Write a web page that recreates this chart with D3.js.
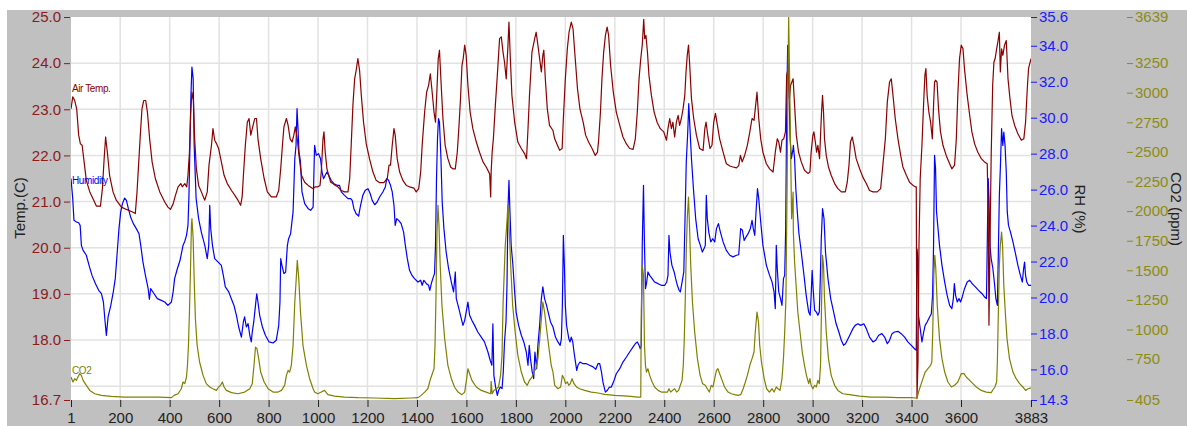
<!DOCTYPE html>
<html>
<head>
<meta charset="utf-8">
<script src="https://cdn.jsdelivr.net/npm/d3@7"></script>
<style>
  body { margin: 0; background: #fff; }
  svg { display: block; font-family: "Liberation Sans", Arial, sans-serif; }
</style>
</head>
<body>
<svg id="chart" width="1187" height="426"></svg>
<script>
// tick values for the three y axes and the sample axis
const sampleTicks = [1, 200, 400, 600, 800, 1000, 1200, 1400, 1600, 1800, 2000, 2200, 2400, 2600, 2800, 3000, 3200, 3400, 3600, 3883];
const tempTicks = [16.7, 18, 19, 20, 21, 22, 23, 24, 25];
const tempGrid = [17, 18, 19, 20, 21, 22, 23, 24];
const rhTicks = [14.3, 16, 18, 20, 22, 24, 26, 28, 30, 32, 34, 35.6];
const co2Ticks = [405, 750, 1000, 1250, 1500, 1750, 2000, 2250, 2500, 2750, 3000, 3250, 3639];

// [sample, value]
const tempData = [[1,23.01],[8,23.27],[16,23.19],[24,23.01],[32,22.44],[39,22.25],[46,22.22],[54,21.86],[63,21.46],[77,21.21],[90,21.06],[104,20.90],[120,20.90],[128,21.28],[135,21.93],[141,22.40],[148,22.07],[157,21.57],[171,21.21],[184,21.03],[205,20.88],[225,20.83],[252,20.77],[261,20.74],[268,21.21],[275,21.86],[282,22.51],[288,23.01],[295,23.19],[303,23.19],[310,22.94],[319,22.36],[329,21.86],[342,21.50],[360,21.21],[380,20.99],[393,20.88],[403,20.83],[414,20.95],[423,21.13],[434,21.32],[445,21.39],[451,21.32],[461,21.39],[469,21.32],[474,21.57],[480,22.07],[485,22.94],[490,23.37],[496,23.19],[501,22.36],[508,21.71],[517,21.35],[528,21.21],[542,21.03],[552,21.21],[559,21.79],[569,22.22],[575,22.58],[582,22.33],[590,22.25],[598,22.15],[609,21.86],[620,21.57],[633,21.39],[650,21.24],[663,21.14],[676,21.03],[687,20.92],[693,21.10],[699,21.64],[706,22.22],[714,22.72],[721,22.80],[728,22.44],[734,22.58],[744,22.80],[751,22.80],[757,22.36],[768,21.93],[782,21.50],[795,21.21],[811,21.10],[831,21.10],[841,21.24],[849,21.71],[856,22.22],[862,22.62],[872,22.80],[879,22.65],[887,22.36],[895,22.29],[902,22.44],[908,22.62],[916,22.36],[923,22.00],[933,21.57],[946,21.42],[960,21.35],[980,21.28],
[989,21.32],[999,21.32],[1008,21.35],[1013,21.64],[1020,22.36],[1024,22.51],[1029,22.07],[1036,21.71],[1043,21.57],[1051,21.42],[1060,21.39],[1070,21.35],[1080,21.32],[1094,21.24],[1107,21.21],[1121,21.21],[1128,21.50],[1134,22.22],[1141,23.09],[1148,23.66],[1154,23.84],[1161,24.10],[1168,23.84],[1175,23.30],[1184,22.72],[1195,22.25],[1208,21.93],[1222,21.64],[1235,21.46],[1249,21.41],[1266,21.41],[1280,21.50],[1287,21.79],[1293,21.79],[1300,22.22],[1307,22.58],[1312,22.44],[1320,21.93],[1330,21.64],[1343,21.46],[1357,21.35],[1370,21.32],[1388,21.29],[1397,21.21],[1407,21.28],[1415,21.64],[1421,22.22],[1431,22.94],[1439,23.37],[1447,23.52],[1454,23.77],[1460,23.45],[1469,22.94],[1475,22.72],[1481,23.45],[1486,24.10],[1491,24.28],[1498,23.52],[1505,22.80],[1514,22.22],[1525,21.93],[1536,21.75],[1545,21.71],[1555,21.71],[1563,22.07],[1570,22.65],[1576,23.23],[1582,23.95],[1587,24.10],[1593,24.39],[1599,24.17],[1606,23.52],[1615,22.94],[1626,22.58],[1640,22.29],[1653,22.07],[1667,21.86],[1680,21.75],[1694,21.60],[1698,21.10],[1700,21.64],[1704,22.07],[1709,22.36],[1717,23.09],[1725,23.74],[1734,24.53],[1741,24.57],[1748,24.24],[1754,24.02],[1761,23.66],[1768,24.39],[1772,24.89],[1777,24.17],[1784,23.30],[1795,22.72],[1808,22.29],[1822,22.15],[1835,22.04],[1843,21.93],[1849,22.58],[1855,23.30],[1865,24.24],[1876,24.53],[1882,24.67],[1889,24.39],[1896,24.10],[1903,23.81],[1909,24.17],[1913,24.28],[1919,23.66],[1927,23.01],[1936,22.65],[1950,22.54],
[1957,22.36],[1968,22.22],[1977,22.11],[1987,22.15],[1992,22.80],[2000,23.66],[2008,24.31],[2015,24.67],[2024,24.89],[2031,24.75],[2038,24.24],[2049,23.45],[2059,23.01],[2072,22.72],[2082,22.44],[2094,22.29],[2108,22.15],[2121,22.00],[2130,22.07],[2135,22.36],[2142,22.94],[2148,23.66],[2155,24.24],[2162,24.60],[2169,24.78],[2175,24.60],[2183,23.95],[2194,23.37],[2206,22.94],[2220,22.65],[2233,22.40],[2247,22.25],[2260,22.15],[2274,22.13],[2283,22.36],[2291,22.94],[2298,23.66],[2305,24.10],[2311,24.39],[2317,24.95],[2321,24.53],[2326,24.60],[2332,24.24],[2338,23.74],[2348,23.30],[2359,22.94],[2371,22.72],[2384,22.58],[2398,22.51],[2409,22.33],[2415,22.58],[2422,22.80],[2429,22.58],[2435,22.72],[2442,22.40],[2449,22.72],[2456,22.87],[2462,22.65],[2469,22.80],[2476,23.01],[2483,23.30],[2488,23.81],[2493,24.17],[2498,24.39],[2503,23.95],[2510,23.23],[2519,22.80],[2530,22.44],[2543,22.15],[2557,22.11],[2564,22.58],[2569,22.72],[2577,22.40],[2585,22.15],[2593,22.22],[2600,22.72],[2607,22.91],[2615,22.65],[2624,22.36],[2638,22.07],[2651,21.82],[2665,21.77],[2678,21.75],[2692,21.73],[2701,21.78],[2708,22.00],[2715,21.86],[2725,22.00],[2736,22.22],[2746,22.51],[2755,22.80],[2763,22.76],[2768,23.01],[2775,23.37],[2782,22.80],[2790,22.36],[2799,22.07],[2813,21.82],[2826,21.71],[2840,21.64],[2849,22.07],[2857,22.36],[2863,22.29],[2870,22.07],[2876,22.33],[2883,22.36],[2890,22.51],[2895,23.74],[2901,23.88],[2906,23.23],[2911,23.52],[2921,23.66],
[2927,23.09],[2934,22.44],[2943,22.07],[2954,21.86],[2967,21.68],[2981,21.61],[2989,21.64],[2994,22.07],[3001,22.44],[3005,22.51],[3011,22.29],[3016,22.07],[3021,22.22],[3028,21.93],[3032,22.44],[3036,22.94],[3040,23.30],[3044,22.94],[3048,22.36],[3055,22.00],[3064,21.75],[3075,21.57],[3089,21.39],[3102,21.28],[3116,21.21],[3132,21.21],[3140,21.42],[3147,21.79],[3153,22.29],[3160,22.40],[3167,22.22],[3176,21.93],[3190,21.71],[3203,21.53],[3217,21.39],[3230,21.24],[3244,21.21],[3261,21.21],[3275,21.28],[3284,21.79],[3294,22.36],[3302,23.16],[3311,23.59],[3318,23.66],[3325,23.30],[3334,22.80],[3345,22.36],[3356,22.00],[3365,21.75],[3379,21.57],[3392,21.42],[3406,21.35],[3415,21.32],[3419,21.32],[3422,16.75],[3426,17.52],[3430,20.05],[3435,21.50],[3442,22.22],[3449,23.16],[3454,23.74],[3458,23.88],[3463,23.30],[3470,22.94],[3477,22.72],[3484,22.36],[3489,23.09],[3493,23.59],[3497,23.63],[3503,23.59],[3509,23.01],[3517,22.51],[3527,22.22],[3540,22.00],[3554,21.82],[3563,21.71],[3574,21.79],[3581,22.36],[3587,23.30],[3594,24.10],[3601,24.39],[3608,24.31],[3614,23.88],[3625,23.30],[3635,22.87],[3644,22.51],[3655,22.25],[3668,22.07],[3682,21.93],[3695,21.86],[3706,21.82],[3710,20.77],[3713,18.32],[3717,20.05],[3722,22.00],[3728,23.52],[3733,24.02],[3738,24.10],[3744,24.31],[3749,24.46],[3755,24.67],[3759,23.81],[3764,24.31],[3769,24.17],[3776,24.39],[3783,24.49],[3790,23.66],[3798,23.23],[3806,22.87],[3817,22.65],[3830,22.47],[3844,22.33],[3854,22.36],[3861,22.72],[3868,23.45],[3873,23.88],[3883,24.10]];

const rhData = [[1,26.61],[8,25.50],[13,24.29],[23,24.20],[32,24.16],[38,24.01],[43,22.90],[50,22.62],[63,22.35],[74,21.79],[86,21.23],[100,20.77],[113,20.40],[124,20.21],[132,19.75],[139,18.64],[144,17.89],[151,18.92],[162,19.56],[172,20.31],[180,21.05],[188,22.53],[195,23.83],[202,24.76],[209,25.22],[218,25.53],[225,25.40],[233,24.94],[242,24.48],[253,24.11],[265,23.83],[276,23.55],[283,22.90],[292,21.97],[302,21.23],[313,20.49],[318,19.90],[323,20.49],[337,20.21],[350,19.94],[366,19.84],[380,19.75],[393,19.56],[407,19.75],[414,20.31],[420,21.05],[431,21.60],[442,22.07],[454,22.90],[461,23.12],[468,23.46],[474,24.01],[478,25.68],[482,28.46],[486,31.24],[490,32.82],[495,32.17],[499,28.46],[507,25.50],[517,24.39],[528,23.64],[542,22.90],[552,22.16],[558,22.90],[562,25.13],[566,23.83],[573,22.90],[582,22.16],[596,21.97],[609,21.79],[617,21.23],[625,20.59],[639,20.31],[649,19.94],[660,19.56],[670,19.01],[679,18.36],[690,17.80],[698,18.64],[703,18.92],[710,18.36],[717,18.55],[724,17.90],[730,17.53],[734,18.08],[740,18.64],[747,19.56],[752,20.21],[757,19.75],[764,19.01],[775,18.36],[787,17.90],[802,17.53],[818,17.47],[831,17.62],[841,18.45],[846,19.75],[849,22.16],[854,21.79],[862,21.33],[869,21.42],[876,22.90],[881,23.27],[889,23.55],[899,24.76],[906,27.72],[911,28.46],[915,30.50],[919,29.39],[923,28.09],[929,27.54],[935,25.87],[946,25.22],[960,24.94],[970,24.85],[980,25.03],
[986,28.46],[993,27.91],[1002,28.00],[1010,27.72],[1016,26.98],[1022,26.61],[1029,26.80],[1036,26.98],[1043,26.80],[1053,26.52],[1064,26.33],[1078,26.24],[1087,26.24],[1094,25.87],[1107,25.68],[1121,25.50],[1132,25.50],[1138,25.40],[1145,24.94],[1154,24.66],[1164,24.53],[1172,25.13],[1181,25.68],[1191,25.96],[1202,26.05],[1211,25.77],[1219,25.40],[1229,25.16],[1239,25.31],[1249,25.59],[1262,25.87],[1272,26.15],[1278,26.61],[1285,26.52],[1293,26.24],[1300,25.87],[1307,25.13],[1312,24.01],[1318,24.39],[1326,24.29],[1336,24.11],[1346,23.64],[1353,22.90],[1361,22.16],[1370,21.51],[1380,21.23],[1390,21.05],[1404,20.86],[1415,20.96],[1421,20.68],[1428,20.96],[1438,20.77],[1447,20.68],[1452,20.40],[1458,20.77],[1464,21.05],[1471,21.33],[1475,22.90],[1479,26.61],[1483,28.83],[1487,29.95],[1491,29.76],[1497,27.72],[1502,25.31],[1509,23.83],[1518,22.53],[1528,21.60],[1539,20.86],[1548,20.31],[1555,21.42],[1559,19.94],[1568,19.47],[1576,19.01],[1586,18.45],[1593,18.73],[1599,19.19],[1606,19.75],[1613,19.01],[1622,18.73],[1633,18.45],[1646,18.08],[1660,17.80],[1673,17.53],[1687,16.97],[1696,16.51],[1703,16.23],[1707,18.54],[1711,15.67],[1718,15.02],[1725,14.56],[1730,14.84],[1737,15.02],[1744,14.93],[1749,15.86],[1754,17.53],[1760,18.64],[1764,20.68],[1768,24.94],[1772,26.52],[1776,24.76],[1781,22.90],[1788,21.79],[1795,20.31],[1801,19.19],[1811,18.45],[1822,17.90],[1832,17.53],[1842,16.97],[1849,16.23],[1854,17.34],[1859,16.60],[1866,15.86],[1872,15.49],[1877,16.97],[1884,16.04],[1889,17.34],[1896,18.45],[1903,19.94],[1909,20.59],[1916,19.94],[1924,19.56],[1932,19.10],[1940,18.64],[1950,18.36],
[1960,17.80],[1970,17.53],[1979,17.34],[1984,17.71],[1988,19.56],[1992,23.46],[1996,21.79],[2000,19.56],[2005,18.45],[2014,17.71],[2019,17.53],[2024,17.80],[2030,17.53],[2035,16.97],[2041,16.41],[2046,15.95],[2051,16.23],[2059,16.41],[2072,16.32],[2085,16.32],[2098,16.23],[2112,16.14],[2123,16.01],[2132,16.32],[2139,16.32],[2146,15.86],[2152,15.30],[2162,14.74],[2170,14.84],[2178,15.02],[2186,15.02],[2197,15.39],[2206,15.76],[2220,16.04],[2233,16.41],[2247,16.69],[2260,16.97],[2274,17.25],[2283,17.43],[2291,17.53],[2298,17.34],[2303,17.15],[2307,17.34],[2311,22.90],[2316,26.24],[2320,22.90],[2324,20.49],[2329,20.86],[2334,21.42],[2341,21.23],[2351,21.05],[2361,20.86],[2375,20.77],[2388,20.68],[2402,20.68],[2410,20.86],[2415,21.23],[2419,23.46],[2423,22.53],[2431,21.79],[2440,21.42],[2446,21.05],[2453,20.68],[2460,20.40],[2465,20.31],[2472,20.86],[2479,21.42],[2484,24.39],[2489,27.54],[2495,29.20],[2499,30.78],[2504,29.39],[2510,27.72],[2518,26.05],[2527,24.39],[2537,23.27],[2546,22.90],[2554,22.53],[2561,22.72],[2566,22.90],[2570,25.68],[2574,24.39],[2580,23.64],[2588,23.09],[2596,23.27],[2604,23.09],[2611,23.83],[2619,24.11],[2627,23.64],[2638,23.09],[2651,22.62],[2665,22.35],[2678,22.26],[2692,22.35],[2701,22.38],[2705,23.09],[2709,23.83],[2716,23.74],[2723,23.18],[2731,23.37],[2739,23.55],[2748,23.83],[2755,24.29],[2760,23.83],[2766,23.46],[2771,24.76],[2777,26.05],[2782,25.50],[2790,24.20],[2799,22.90],[2813,21.79],[2826,21.23],[2836,20.86],[2844,20.31],[2849,19.38],[2853,22.90],[2857,21.60],[2863,20.31],[2870,19.94],[2876,19.56],[2882,21.05],[2887,21.23],[2891,23.83],[2895,30.32],[2899,34.02],[2903,32.54],[2909,28.83],[2914,27.72],[2921,28.28],
[2922,28.46],[2927,27.72],[2932,26.05],[2938,24.76],[2944,23.64],[2954,22.53],[2965,21.23],[2974,20.12],[2984,19.19],[2990,19.01],[2994,20.12],[2998,21.51],[3002,20.49],[3008,19.29],[3015,19.19],[3021,19.01],[3027,19.19],[3031,21.05],[3035,23.27],[3040,24.94],[3046,24.39],[3052,22.53],[3062,21.05],[3073,19.94],[3085,19.19],[3095,18.54],[3106,18.08],[3116,17.62],[3125,17.34],[3133,17.43],[3143,17.71],[3153,17.99],[3163,18.27],[3172,18.45],[3183,18.54],[3194,18.45],[3207,18.54],[3217,18.27],[3230,17.80],[3244,17.53],[3255,17.62],[3267,17.90],[3280,17.99],[3291,17.80],[3302,17.43],[3311,17.62],[3321,17.99],[3331,18.08],[3345,18.12],[3358,17.99],[3372,17.80],[3385,17.53],[3399,17.34],[3412,17.15],[3419,17.06],[3422,22.71],[3426,22.16],[3428,19.01],[3435,18.27],[3442,17.53],[3449,18.08],[3455,18.45],[3463,18.64],[3473,18.92],[3480,19.10],[3485,20.12],[3489,22.90],[3493,27.91],[3497,27.17],[3501,24.76],[3507,23.83],[3513,22.90],[3523,21.79],[3534,20.86],[3544,20.12],[3554,19.56],[3563,19.38],[3569,19.94],[3573,20.77],[3578,20.12],[3585,19.75],[3592,19.94],[3598,19.75],[3605,20.03],[3614,20.49],[3625,20.86],[3635,20.96],[3645,20.77],[3658,20.59],[3671,20.40],[3685,20.21],[3695,20.03],[3703,19.94],[3707,23.83],[3710,26.61],[3713,25.50],[3717,22.90],[3722,22.16],[3729,21.60],[3736,20.68],[3741,19.94],[3747,19.56],[3751,22.53],[3755,25.68],[3759,27.17],[3764,29.39],[3769,28.46],[3773,29.20],[3778,28.46],[3783,26.98],[3787,24.76],[3792,24.01],[3800,23.64],[3810,23.09],[3819,22.53],[3830,21.79],[3840,21.23],[3848,20.86],[3853,21.60],[3857,21.97],[3861,21.23],[3866,20.86],[3873,20.68],[3883,20.68]];

const co2Data = [[1,599],[9,557],[16,585],[23,571],[29,599],[36,627],[43,613],[50,571],[63,529],[77,486],[97,458],[124,444],[164,436],[218,430],[286,430],[353,430],[407,425],[418,444],[434,458],[447,500],[454,557],[461,543],[468,599],[472,698],[476,867],[480,1148],[484,1486],[488,1880],[490,1936],[495,1767],[499,1430],[504,1092],[511,867],[521,726],[535,613],[548,543],[562,515],[575,500],[589,486],[598,515],[606,529],[613,557],[620,515],[629,486],[650,467],[676,458],[703,472],[724,500],[734,543],[741,698],[747,852],[753,838],[760,754],[768,641],[782,557],[798,500],[818,472],[838,472],[852,486],[865,529],[872,613],[879,655],[885,641],[892,698],[899,867],[906,1232],[911,1401],[916,1584],[922,1430],[929,1148],[939,867],[953,698],[966,585],[980,500],
[986,472],[999,458],[1013,472],[1026,486],[1040,450],[1067,438],[1107,430],[1161,425],[1229,422],[1309,416],[1377,422],[1404,425],[1417,444],[1431,472],[1444,500],[1455,585],[1462,627],[1469,669],[1473,867],[1477,1289],[1481,1823],[1485,2049],[1489,1880],[1494,1542],[1501,1204],[1512,923],[1525,698],[1539,585],[1552,515],[1566,472],[1582,450],[1593,472],[1601,585],[1606,669],[1613,627],[1622,571],[1640,515],[1660,486],[1680,472],[1698,458],[1700,563],[1704,458],[1711,486],[1721,500],[1730,515],[1738,613],[1744,782],[1748,1204],[1753,1486],[1757,1711],[1762,1852],[1768,2049],[1773,1852],[1779,1542],[1787,1204],[1797,979],[1808,782],[1822,641],[1835,557],[1846,529],[1855,571],[1865,599],[1873,641],[1881,669],[1889,754],[1896,909],[1903,1092],[1909,1232],[1916,1148],[1924,1007],[1934,838],[1943,698],[1950,641],
[1957,529],[1970,500],[1981,515],[1988,613],[1995,585],[2001,543],[2008,557],[2014,529],[2020,543],[2027,585],[2035,543],[2045,515],[2058,500],[2078,486],[2105,472],[2132,464],[2159,453],[2200,444],[2253,438],[2294,430],[2305,430],[2307,1148],[2311,1542],[2316,1458],[2320,867],[2324,698],[2328,641],[2334,669],[2341,613],[2351,557],[2361,515],[2375,486],[2388,472],[2402,472],[2413,472],[2419,500],[2426,472],[2433,486],[2442,500],[2450,472],[2458,486],[2465,529],[2472,571],[2477,698],[2481,923],[2485,1261],[2489,1655],[2493,1936],[2498,2119],[2502,1880],[2507,1542],[2514,1232],[2523,979],[2534,754],[2545,613],[2555,543],[2566,529],[2574,500],[2582,472],[2590,529],[2597,515],[2604,585],[2611,655],[2617,669],[2624,627],[2634,571],[2644,515],[2658,472],[2671,458],[2685,450],[2698,444],[2709,450],[2719,500],[2728,557],[2736,613],[2746,698],[2755,754],[2763,810],[2768,979],[2775,1148],[2781,1064],[2786,867],[2793,726],[2804,585],[2814,500],[2825,472],[2836,500],[2844,472],[2853,515],[2860,500],[2868,486],[2876,585],[2882,754],[2887,979],[2892,1261],[2897,2274],[2901,3259],[2903,3639],[2907,3118],[2911,2499],[2915,1936],[2921,2161],
[2922,1823],[2927,1570],[2934,1345],[2940,1148],[2949,979],[2958,810],[2967,698],[2975,613],[2984,543],[2989,585],[2994,529],[3001,500],[3008,529],[3015,515],[3021,571],[3027,543],[3032,698],[3036,1204],[3040,1626],[3044,1542],[3048,1261],[3055,979],[3064,754],[3075,613],[3089,529],[3102,486],[3122,458],[3149,450],[3190,438],[3237,430],[3291,430],[3345,425],[3399,425],[3419,422],[3422,416],[3428,472],[3437,529],[3446,585],[3455,641],[3466,669],[3477,698],[3482,726],[3486,1007],[3490,1458],[3494,1626],[3498,1514],[3504,1204],[3513,923],[3523,754],[3534,641],[3547,557],[3561,515],[3574,529],[3587,557],[3601,627],[3612,627],[3621,599],[3635,571],[3648,543],[3662,515],[3682,486],[3702,472],[3722,467],[3732,500],[3737,515],[3744,557],[3747,726],[3751,1148],[3755,1542],[3759,1711],[3764,1823],[3768,1711],[3773,1373],[3779,1148],[3786,923],[3796,754],[3810,641],[3823,585],[3837,543],[3850,515],[3861,486],[3871,500],[3883,507]];

const tempColor = "#8b0000", rhColor = "#0000ff", co2Color = "#808000";

// plot box inside the grey panel
const margin = { top: 17, right: 156, bottom: 26, left: 71 },
  W = 1187, H = 426,
  width = W - margin.left - margin.right,
  height = H - margin.top - margin.bottom;

const svg = d3.select("#chart");

svg.append("rect").attr("x", 7).attr("y", 10).attr("width", W - 7).attr("height", H - 10).attr("fill", "#c0c0c0");

const g = svg.append("g").attr("transform", `translate(${margin.left},${margin.top})`);
g.append("rect").attr("width", width).attr("height", height).attr("fill", "#fff");

const x = d3.scaleLinear().domain([1, 3883]).range([0, width]);
const yT = d3.scaleLinear().domain([16.7, 25]).range([height, 0]);
const yRH = d3.scaleLinear().domain([14.3, 35.6]).range([height, 0]);
const yC = d3.scaleLinear().domain([405, 3639]).range([height, 0]);

// grid
g.append("g").selectAll("line").data(sampleTicks.slice(1, -1)).join("line")
  .attr("x1", d => x(d)).attr("x2", d => x(d)).attr("y1", 0).attr("y2", height)
  .attr("stroke", "#e2e2e2").attr("stroke-width", 1.5);
g.append("g").selectAll("line").data(tempGrid).join("line")
  .attr("x1", 0).attr("x2", width).attr("y1", d => yT(d)).attr("y2", d => yT(d))
  .attr("stroke", "#e2e2e2").attr("stroke-width", 1.5);

// lines
g.append("clipPath").attr("id", "clip").append("rect").attr("width", width).attr("height", height);
const plot = g.append("g").attr("clip-path", "url(#clip)");

function addLine(data, yScale, color) {
  plot.append("path")
    .datum(data)
    .attr("fill", "none")
    .attr("stroke", color)
    .attr("stroke-width", 1.2)
    .attr("stroke-linejoin", "round")
    .attr("d", d3.line().x(d => x(d[0])).y(d => yScale(d[1])));
}
addLine(rhData, yRH, rhColor);
addLine(tempData, yT, tempColor);
addLine(co2Data, yC, co2Color);

// series labels
g.append("text").attr("x", 1).attr("y", 75).attr("fill", tempColor)
  .style("font-size", "10px").style("letter-spacing", "-0.4px").text("Air Temp.");
g.append("text").attr("x", 1).attr("y", 167).attr("fill", rhColor)
  .style("font-size", "10px").style("letter-spacing", "-0.4px").text("Humidity");
g.append("text").attr("x", 1).attr("y", 357).attr("fill", co2Color)
  .style("font-size", "10px").style("letter-spacing", "-0.4px").text("CO2");

function styleAxis(sel, color) {
  sel.select(".domain").remove();
  sel.selectAll(".tick line").attr("stroke", color);
  sel.selectAll(".tick text").attr("fill", color).style("font-size", "15px");
}

// axes
g.append("g").attr("transform", "translate(-1,0)")
  .call(d3.axisLeft(yT).tickValues(tempTicks).tickFormat(d3.format(".1f")).tickSize(6).tickPadding(3))
  .call(s => styleAxis(s, "#8b1a1a"));

g.append("g").attr("transform", `translate(${width},0)`)
  .call(d3.axisRight(yRH).tickValues(rhTicks).tickFormat(d3.format(".1f")).tickSize(6).tickPadding(2))
  .call(s => styleAxis(s, "#1a1aff"));

g.append("g").attr("transform", `translate(${width + 96},0)`)
  .call(d3.axisRight(yC).tickValues(co2Ticks).tickFormat(d3.format("d")).tickSize(6).tickPadding(2))
  .call(s => styleAxis(s, "#8c8c14"));

g.append("g").attr("transform", `translate(0,${height})`)
  .call(d3.axisBottom(x).tickValues(sampleTicks).tickFormat(d3.format("d")).tickSize(7).tickPadding(5))
  .call(s => styleAxis(s, "#222"));

// axis titles
svg.append("text")
  .attr("transform", "translate(25,208) rotate(-90)")
  .attr("text-anchor", "middle").attr("fill", "#222").style("font-size", "15px")
  .text("Temp.(C)");
svg.append("text")
  .attr("transform", "translate(1075,209) rotate(90)")
  .attr("text-anchor", "middle").attr("fill", "#222").style("font-size", "15px")
  .text("RH (%)");
svg.append("text")
  .attr("transform", "translate(1171,209) rotate(90)")
  .attr("text-anchor", "middle").attr("fill", "#222").style("font-size", "15px")
  .text("CO2 (ppm)");
</script>
</body>
</html>
